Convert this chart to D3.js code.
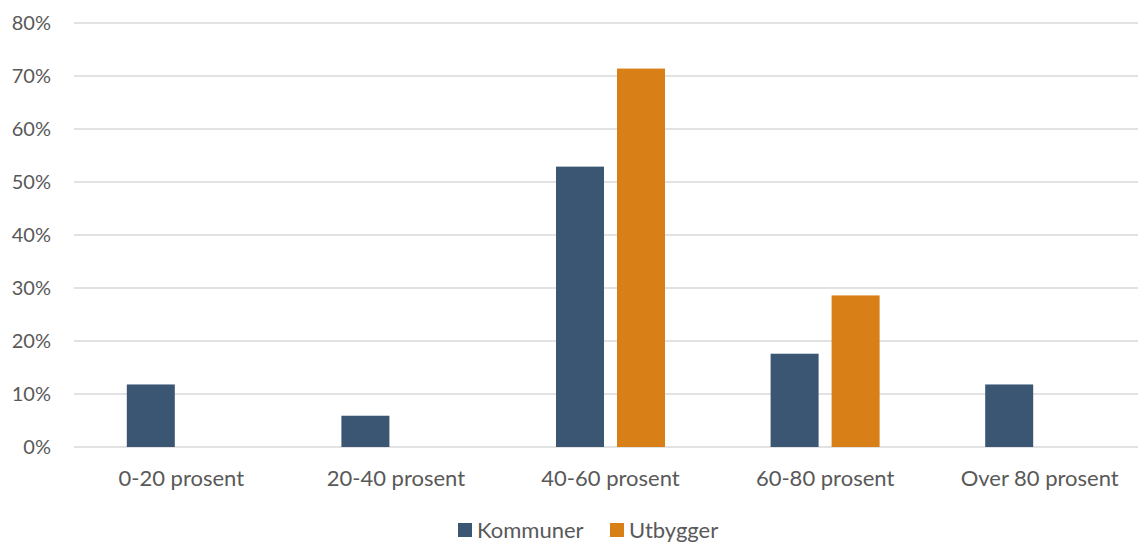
<!DOCTYPE html>
<html>
<head>
<meta charset="utf-8">
<script src="https://cdn.jsdelivr.net/npm/d3@7"></script>
<style>
  html, body { margin: 0; padding: 0; background: #fff; overflow: hidden; }
  svg { display: block; }
  text { font-family: Lato, "Open Sans", sans-serif; fill: #595959; }
</style>
</head>
<body>
<svg id="chart" width="1138" height="542"></svg>
<script>
// Andel per intervall
const categories = ["0-20 prosent", "20-40 prosent", "40-60 prosent", "60-80 prosent", "Over 80 prosent"];
const seriesNames = ["Kommuner", "Utbygger"];
const kommuner = [0.118, 0.059, 0.529, 0.176, 0.118];
const utbygger = [null, null, 0.714, 0.286, null];
const yTicks = [0, 0.1, 0.2, 0.3, 0.4, 0.5, 0.6, 0.7, 0.8];
const colors = ["#3A5673", "#D97F17"];

const svg = d3.select("#chart");
const margin = { top: 23, bottom: 95, left: 74 };
const plotRight = 1147;
const height = 542;

const x0 = d3.scaleBand().domain(categories).range([margin.left, plotRight]).paddingInner(0).paddingOuter(0);
const x1 = d3.scaleBand().domain(seriesNames).range([-54.5, 54.5]).paddingInner(13 / 61).paddingOuter(0);
const y = d3.scaleLinear().domain([0, 0.8]).range([height - margin.bottom, margin.top]);

// Gridlines
svg.append("g")
  .selectAll("line")
  .data(yTicks)
  .join("line")
  .attr("x1", 74)
  .attr("x2", 1138)
  .attr("y1", d => y(d))
  .attr("y2", d => y(d))
  .attr("stroke", "#d9d9d9")
  .attr("stroke-width", 1.5);

// Y axis labels
const yAxis = d3.axisLeft(y).tickValues(yTicks).tickFormat(d3.format(".0%")).tickSize(0).tickPadding(0);
const gy = svg.append("g").attr("transform", "translate(51,0)").call(yAxis);
gy.select(".domain").remove();
gy.selectAll("text").attr("font-size", 20).attr("font-family", "Lato, sans-serif").attr("fill", "#595959");

// Bars
const rows = categories.map((c, i) => ({ cat: c, values: [kommuner[i], utbygger[i]] }));
const groups = svg.append("g")
  .selectAll("g")
  .data(rows)
  .join("g")
  .attr("transform", d => `translate(${x0(d.cat) + x0.bandwidth() / 2},0)`);

groups.selectAll("rect")
  .data(d => d.values.map((v, j) => ({ name: seriesNames[j], v, j })).filter(e => e.v != null))
  .join("rect")
  .attr("x", d => x1(d.name))
  .attr("width", x1.bandwidth())
  .attr("y", d => y(d.v))
  .attr("height", d => y(0) - y(d.v))
  .attr("fill", d => colors[d.j]);

// X axis labels
const xAxis = d3.axisBottom(x0).tickSize(0).tickPadding(0);
const gx = svg.append("g").attr("transform", `translate(0,${y(0) + 31})`).call(xAxis);
gx.select(".domain").remove();
gx.selectAll("text").attr("font-size", 22).attr("font-family", "Lato, sans-serif").attr("fill", "#595959").attr("dy", "0.35em");

// Legend
const legendX = [458, 610];
const legend = svg.append("g")
  .selectAll("g")
  .data(seriesNames)
  .join("g")
  .attr("transform", (d, i) => `translate(${legendX[i]},530)`);
legend.append("rect")
  .attr("x", 0).attr("y", -7).attr("width", 14).attr("height", 14)
  .attr("fill", (d, i) => colors[i]);
legend.append("text")
  .attr("x", 19).attr("dy", "0.35em")
  .attr("font-size", 22)
  .text(d => d);
</script>
</body>
</html>
